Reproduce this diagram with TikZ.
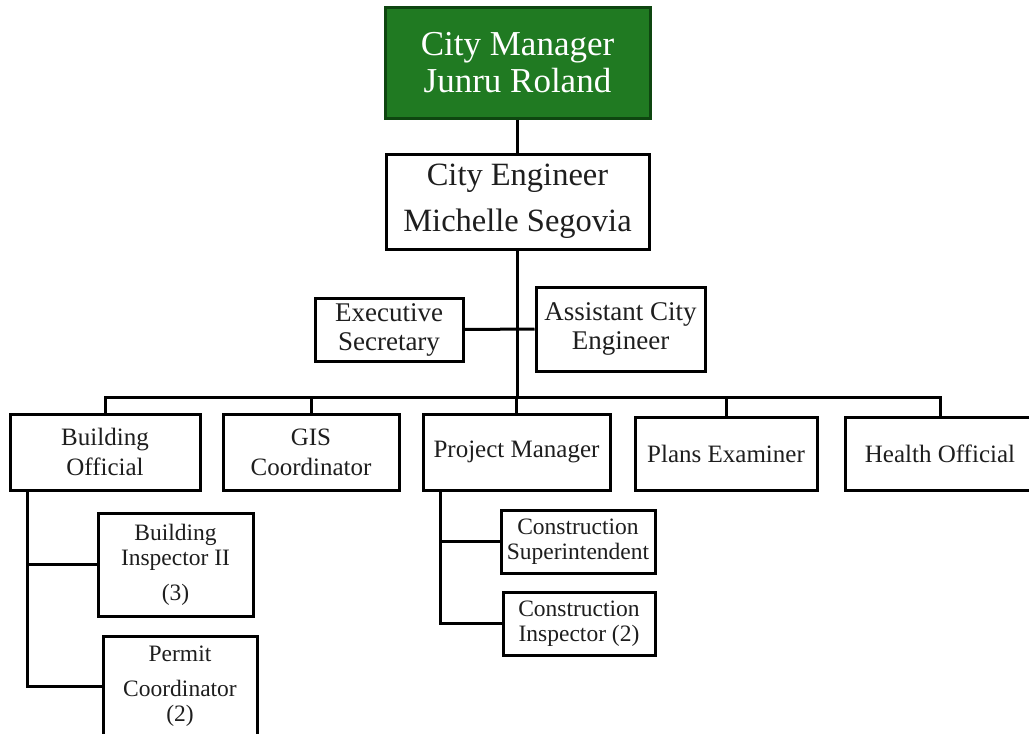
\documentclass[tikz,border=0pt]{standalone}
\usepackage{fontspec}
\setmainfont{Liberation Serif}
\definecolor{cmgreen}{RGB}{32,122,34}
\definecolor{cmdark}{RGB}{14,70,16}
\definecolor{txt}{RGB}{30,30,30}
\tikzset{
  box/.style={draw=black, line width=3pt, fill=white, inner sep=0pt, align=center, text=txt},
  conn/.style={draw=black, line width=3pt},
  fcm/.style={font=\fontsize{35pt}{37pt}\selectfont},
  fce/.style={font=\fontsize{32.5pt}{46pt}\selectfont},
  fmid/.style={font=\fontsize{27pt}{29pt}\selectfont},
  frow/.style={font=\fontsize{25pt}{30pt}\selectfont},
  fsmall/.style={font=\fontsize{23.5pt}{25pt}\selectfont},
}
\begin{document}
\begin{tikzpicture}[x=1pt,y=-1pt]
\useasboundingbox (0,0) rectangle (1029,734);
\clip (0,0) rectangle (1029,734);
\fill[white] (0,0) rectangle (1029,734);
% nodes
\node[box, fcm, fill=cmgreen, draw=cmdark, text=white, minimum width=265pt, minimum height=111pt] (cm) at (517.5,62.5) {City Manager\\Junru Roland};
\node[box, fce, minimum width=263pt, minimum height=95pt] (ce) at (517.5,201.5) {City Engineer\\Michelle Segovia};
\node[box, fmid, minimum width=148pt, minimum height=63pt] (es) at (389,329.5) {Executive\\Secretary};
\node[box, fmid, minimum width=169pt, minimum height=84pt] (ace) at (620.5,329) {Assistant City\\Engineer};
\node[box, frow, minimum width=190pt, minimum height=76pt] (bo) at (105,452) {Building\\Official};
\node[box, frow, minimum width=176pt, minimum height=76pt] (gis) at (311,452) {GIS\\Coordinator};
\node[box, frow, minimum width=187pt, minimum height=76pt] (pm) at (516.5,452) {Project Manager};
\node[box, frow, minimum width=182pt, minimum height=73pt] (pe) at (726,453.5) {Plans Examiner};
\node[box, frow, minimum width=190pt, minimum height=73pt] (ho) at (940,453.5) {Health Official};
\node[box, fsmall, minimum width=155pt, minimum height=103pt] (bi) at (175.5,564.5) {Building\\Inspector II\\[10pt](3)};
\node[box, fsmall, minimum width=154pt, minimum height=100pt] (pc) at (180,686) {Permit\\[10pt]Coordinator\\(2)};
\node[box, fsmall, minimum width=154pt, minimum height=63pt] (cs) at (578,541.5) {Construction\\Superintendent};
\node[box, fsmall, minimum width=152pt, minimum height=63pt] (ci) at (579,623.5) {Construction\\Inspector (2)};
\coordinate (bus) at (517.5,397);
% connectors
\draw[conn] (cm.south) -- (ce.north);
\draw[conn] (ce.south) -- (bus);
\draw[conn] (es.east) -- (ace.west);
\draw[conn] (bo.north) |- (bus) -| (ho.north);
\draw[conn] (gis.north) -- (gis.north |- bus);
\draw[conn] (pm.north) -- (pm.north |- bus);
\draw[conn] (pe.north) -- (pe.north |- bus);
\draw[conn] ([xshift=19pt]bo.south west) |- (bi.west);
\draw[conn] ([xshift=19pt]bo.south west) |- (pc.west);
\draw[conn] ([xshift=19pt]pm.south west) |- (cs.west);
\draw[conn] ([xshift=19pt]pm.south west) |- (ci.west);
\end{tikzpicture}
\end{document}
